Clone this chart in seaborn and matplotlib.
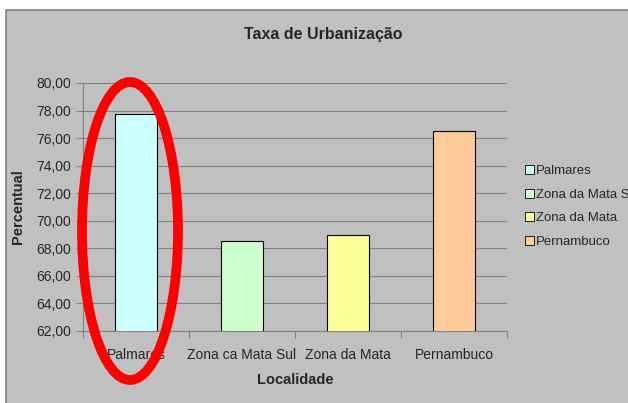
import numpy as np
import pandas as pd
import matplotlib.pyplot as plt
import seaborn as sns
from matplotlib.patches import Rectangle, Ellipse
from matplotlib.ticker import FuncFormatter, FixedLocator

# data
tick_labels = ['Palmares', 'Zona ca Mata Sul', 'Zona da Mata', 'Pernambuco']
legend_labels = ['Palmares', 'Zona da Mata Sul', 'Zona da Mata', 'Pernambuco']
valores = [77.75, 68.5, 69.0, 76.5]
cores = ['#CCFFFF', '#CCFFCC', '#FFFF99', '#FFCC99']

df = pd.DataFrame({'localidade': legend_labels, 'percentual': valores})

sns.set_style('white')
plt.rcParams['font.family'] = ['Liberation Sans', 'DejaVu Sans']

fig = plt.figure(figsize=(6.28, 4.03), dpi=100, facecolor='white')
# gray chart area
fig.patches.append(Rectangle((6 / 628, -0.01), 1.0, 1 - 10 / 403 + 0.01,
                             transform=fig.transFigure, facecolor='#C0C0C0',
                             edgecolor='#808080', linewidth=1.2, zorder=-5))

ax = fig.add_axes([83 / 628, 1 - 331 / 403, (507 - 83) / 628, (331 - 83) / 403])
ax.set_facecolor('#C0C0C0')

sns.barplot(data=df, x='localidade', y='percentual', hue='localidade',
            palette=dict(zip(legend_labels, cores)), width=0.4, saturation=1,
            edgecolor='black', linewidth=0.8, legend=True, ax=ax, zorder=3)

ax.set_ylim(62, 80)
ax.set_yticks(np.arange(62, 80.1, 2))
ax.yaxis.set_major_formatter(FuncFormatter(lambda v, p: f'{v:.2f}'.replace('.', ',')))
ax.yaxis.grid(True, color='#808080', linewidth=0.8, zorder=0)
ax.set_axisbelow(True)

ax.set_xticks(range(4))
ax.set_xticklabels(tick_labels)
ax.xaxis.set_minor_locator(FixedLocator(np.arange(-0.5, 4, 1)))
ax.set_xlim(-0.5, 3.5)
ax.tick_params(axis='x', which='major', length=0, labelsize=10, pad=12)
ax.tick_params(axis='x', which='minor', length=5, color='#808080', width=0.8, bottom=True)
ax.tick_params(axis='y', length=5, color='#808080', width=0.8, labelsize=10, left=True)

for s in ['top', 'right']:
    ax.spines[s].set_visible(False)
for s in ['left', 'bottom']:
    ax.spines[s].set_color('#808080')
    ax.spines[s].set_linewidth(0.8)

ax.set_xlabel('Localidade', fontsize=10.5, fontweight='bold', labelpad=8)
ax.set_ylabel('Percentual', fontsize=10.5, fontweight='bold', labelpad=8)
fig.text(323 / 628, 1 - 34 / 403, 'Taxa de Urbanização', ha='center', va='center',
         fontsize=11.5, fontweight='bold')

leg = ax.legend(loc='upper left', bbox_to_anchor=(1.03, 0.69), frameon=False,
                fontsize=9.5, handlelength=0.7, handleheight=0.7,
                handletextpad=0.15, labelspacing=0.85, borderaxespad=0)
for h in leg.legend_handles:
    h.set_edgecolor('black')
    h.set_linewidth(0.6)

# red highlight around Palmares
fig.patches.append(Ellipse((130 / 628, 1 - 231 / 403), 96 / 628, 298 / 403,
                           transform=fig.transFigure, fill=False,
                           edgecolor='#FF0000', linewidth=7, zorder=10))

fig.savefig('out.png', dpi=100, facecolor=fig.get_facecolor())
